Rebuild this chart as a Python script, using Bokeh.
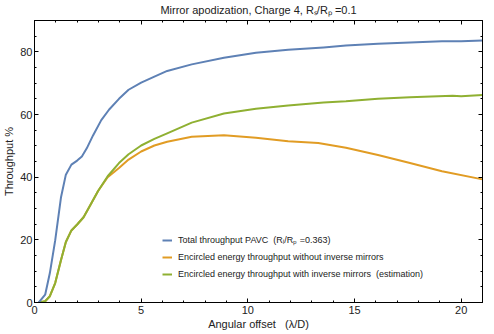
from bokeh.plotting import figure
from bokeh.models import (FixedTicker, LinearAxis, Legend, LegendItem, Range1d,
                          CustomLabelingPolicy)
from bokeh.embed import file_html
from bokeh.resources import INLINE

# ---- data ----
blue_x = [0.2, 0.5, 0.72, 0.97, 1.24, 1.47, 1.73, 2.0, 2.22, 2.45, 2.75, 3.13, 3.5, 3.96,
          4.41, 5.0, 5.62, 6.22, 7.37, 8.88, 10.38, 11.89, 13.55, 14.6, 16.1, 17.6, 19.1, 20.0, 21.0]
blue_y = [0, 2.5, 9.4, 19.8, 33.5, 40.8, 44, 45.3, 46.6, 49.2, 53.4, 58.2, 61.6, 65,
          67.9, 70.2, 72.1, 73.9, 76, 78.1, 79.7, 80.7, 81.4, 82, 82.6, 83, 83.4, 83.4, 83.6]

green_x = [0.2, 0.5, 0.72, 0.97, 1.24, 1.47, 1.73, 2.0, 2.3, 2.6, 2.98, 3.43, 3.96, 4.41,
           5.0, 5.62, 6.22, 7.37, 8.88, 10.38, 11.89, 13.55, 14.6, 16.1, 17.6, 19.6, 20.0, 21.0]
green_y = [0, 0.4, 2, 6.2, 13.5, 19.3, 23, 24.9, 27.2, 30.9, 35.6, 40.3, 44.5, 47.3,
           50.1, 52.2, 54, 57.4, 60.3, 61.8, 62.9, 63.8, 64.2, 65, 65.5, 66.0, 65.8, 66.2]

orange_x = [0.2, 0.5, 0.72, 0.97, 1.24, 1.47, 1.73, 2.0, 2.3, 2.6, 2.98, 3.43, 3.96, 4.41,
            5.0, 5.62, 6.22, 7.37, 8.88, 10.38, 11.89, 13.3, 14.6, 16.1, 17.6, 19.1, 21.0]
orange_y = [0, 0.4, 2, 6.2, 13.5, 19.3, 23, 24.9, 27.2, 30.9, 35.6, 40.0, 42.9, 45.6,
            48.2, 50.1, 51.3, 52.9, 53.4, 52.6, 51.5, 50.9, 49.4, 47.1, 44.5, 41.9, 39.3]

x_major = [0, 5, 10, 15, 20]
x_minor = list(range(0, 22))
y_major = [0, 20, 40, 60, 80]
y_minor = list(range(0, 91, 5))

NB = "\u00a0"
labels = ["Total throughput PAVC" + NB + NB + "(R\u1d62/R\u209a" + NB + "=0.363)",
          "Encircled energy throughput without inverse mirrors",
          "Encircled energy throughput with inverse mirrors" + NB + NB + "(estimation)"]
colors = ["#5E81B5", "#E19C24", "#8FB032"]

FONT = "Liberation Sans"
TXT = "#222222"

p = figure(width=486, height=332, output_backend="svg", toolbar_location=None,
           x_range=Range1d(0, 21), y_range=Range1d(0, 90),
           title="Mirror apodization, Charge 4, R\u209b/R\u209a" + NB + "=0.1")
p.min_border_left = 0
p.min_border_right = 2
p.min_border_top = 0
p.min_border_bottom = 0
p.title.align = "center"
p.title.text_font = FONT
p.title.text_font_style = "normal"
p.title.text_font_size = "11px"
p.title.text_color = TXT
p.title.standoff = 2
p.grid.visible = False
p.outline_line_color = "black"
p.outline_line_width = 1

r_orange = p.line(orange_x, orange_y, line_color=colors[1], line_width=2, line_join="round")
r_green = p.line(green_x, green_y, line_color=colors[2], line_width=2, line_join="round")
r_blue = p.line(blue_x, blue_y, line_color=colors[0], line_width=2, line_join="round")

hide_all = CustomLabelingPolicy(code="""
for (const i of indices) { indices.unset(i) }
return indices
""")

def style_axis(ax, ticks, minors, show_labels, lab_standoff=2, ax_standoff=2):
    ax.ticker = FixedTicker(ticks=ticks, minor_ticks=minors)
    ax.axis_line_color = "black"
    ax.axis_line_width = 1
    ax.major_tick_in = 4
    ax.major_tick_out = 0
    ax.minor_tick_in = 2
    ax.minor_tick_out = 0
    ax.major_tick_line_color = "black"
    ax.minor_tick_line_color = "black"
    if show_labels:
        ax.major_label_text_font = FONT
        ax.major_label_text_font_size = "11px"
        ax.major_label_text_color = TXT
        ax.major_label_standoff = lab_standoff
        ax.axis_label_text_font = FONT
        ax.axis_label_text_font_size = "11px"
        ax.axis_label_text_font_style = "normal"
        ax.axis_label_text_color = TXT
        ax.axis_label_standoff = ax_standoff
    else:
        ax.major_label_policy = hide_all
        ax.major_label_text_font_size = "1px"
        ax.major_label_standoff = 0

xa = p.xaxis[0]
ya = p.yaxis[0]
style_axis(xa, x_major, x_minor, True, lab_standoff=3, ax_standoff=1)
style_axis(ya, y_major, y_minor, True, lab_standoff=2, ax_standoff=2)
xa.axis_label = "Angular offset" + NB * 3 + "(\u03bb/D)"
ya.axis_label = "Throughput %"

top = LinearAxis()
style_axis(top, x_major, x_minor, False)
p.add_layout(top, "above")
right = LinearAxis()
style_axis(right, y_major, y_minor, False)
p.add_layout(right, "right")

legend = Legend(items=[LegendItem(label=labels[0], renderers=[r_blue]),
                       LegendItem(label=labels[1], renderers=[r_orange]),
                       LegendItem(label=labels[2], renderers=[r_green])],
                location=(128, 22))
legend.border_line_color = None
legend.background_fill_alpha = 0
legend.padding = 0
legend.margin = 0
legend.spacing = 5
legend.label_text_font = FONT
legend.label_text_font_size = "9px"
legend.label_text_color = TXT
legend.label_height = 12
legend.glyph_height = 12
legend.glyph_width = 10
legend.label_standoff = 6
p.add_layout(legend, "center")

open("out.html", "w").write(file_html(p, INLINE))
